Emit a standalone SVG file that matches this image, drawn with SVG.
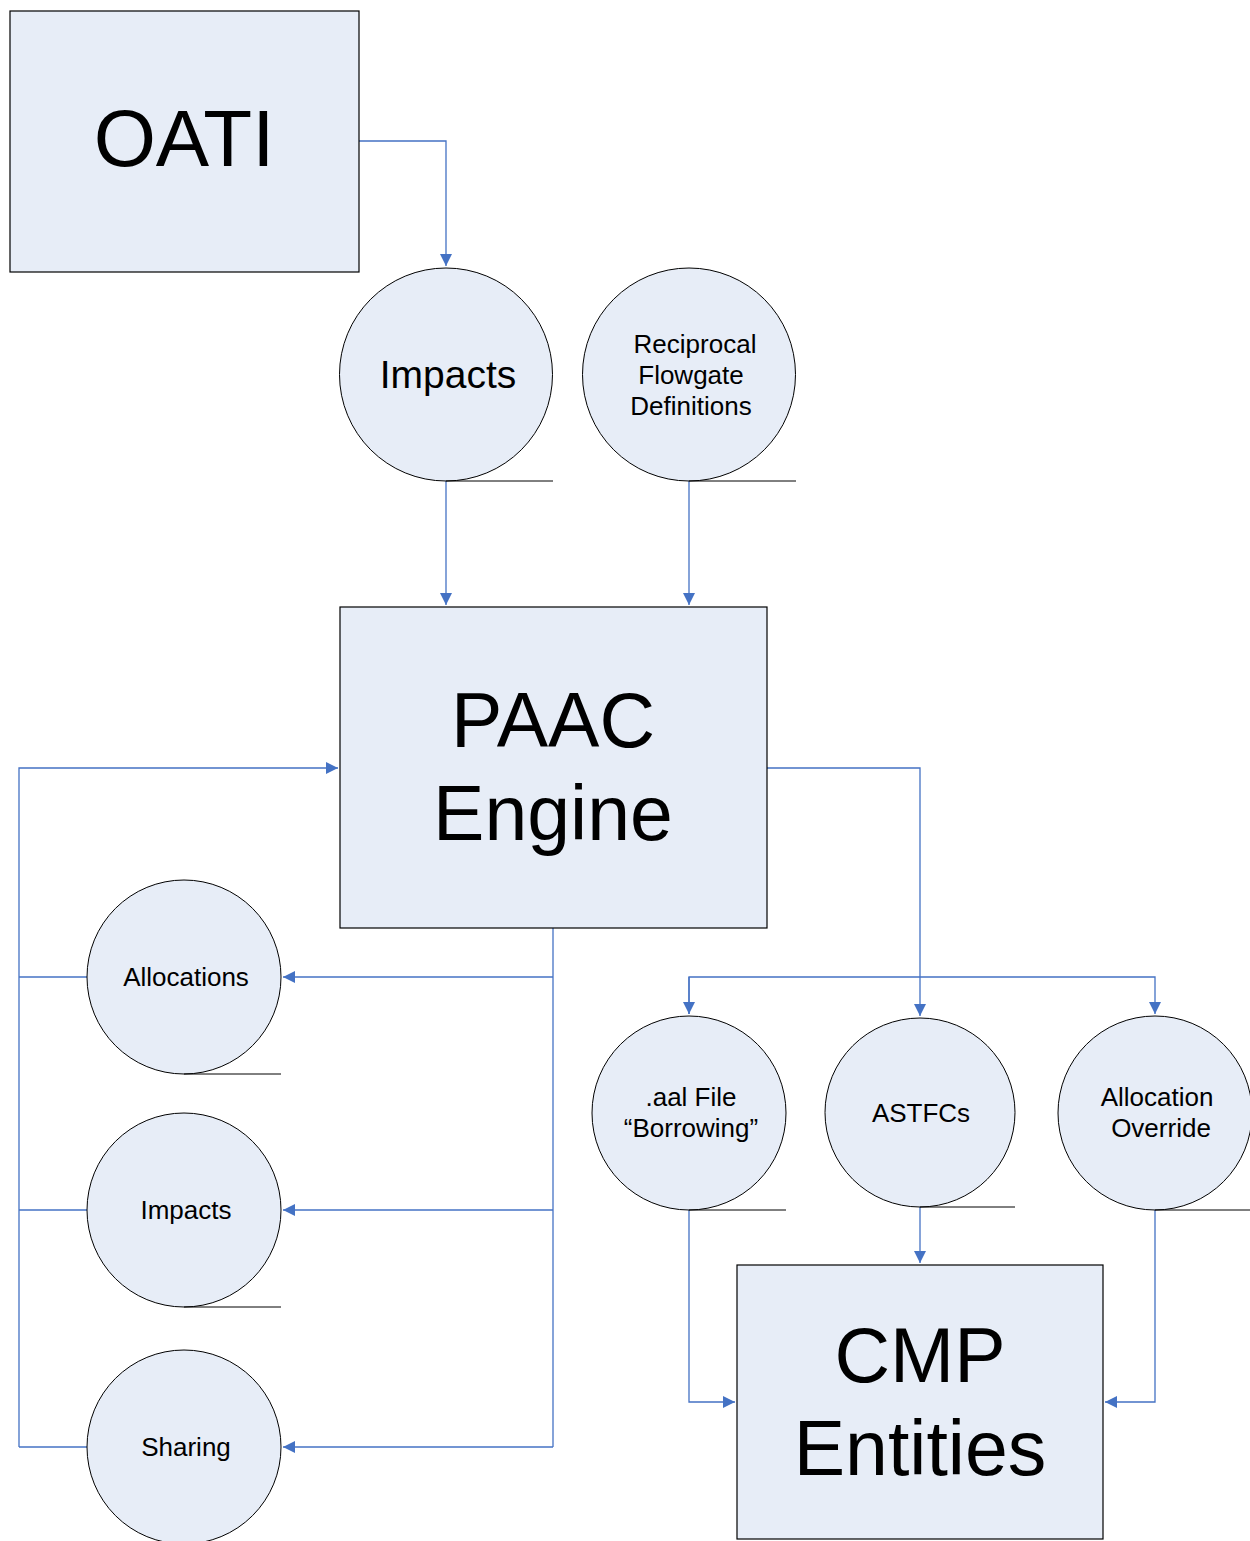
<svg xmlns="http://www.w3.org/2000/svg" width="1250" height="1541" viewBox="0 0 1250 1541">
<defs>
<marker id="arr" markerWidth="12" markerHeight="12" refX="10" refY="5" orient="auto" markerUnits="userSpaceOnUse" viewBox="0 0 10 10">
<path d="M0,0 L10,5 L0,10 z" fill="#4472C4"/>
</marker>
<style>
.box{fill:#E7EDF7;stroke:#000;stroke-width:1.2}
.tape{fill:#E7EDF7;stroke:#000;stroke-width:1}
.tail{stroke:#000;stroke-width:1;fill:none}
.c{fill:none;stroke:#4472C4;stroke-width:1.3}
.t{font-family:"Liberation Sans",Arial,sans-serif;fill:#000;text-anchor:middle}
</style>
</defs>
<rect width="1250" height="1541" fill="#fff"/>
<g id="connectors">
<path class="c" d="M359,141 H446 V266" marker-end="url(#arr)"/>
<path class="c" d="M446,481 V605" marker-end="url(#arr)"/>
<path class="c" d="M689,481 V605" marker-end="url(#arr)"/>
<path class="c" d="M19,1447 V768 H338" marker-end="url(#arr)"/>
<path class="c" d="M19,977 H87"/>
<path class="c" d="M19,1210 H87"/>
<path class="c" d="M19,1447 H87"/>
<path class="c" d="M553,928 V1447"/>
<path class="c" d="M553,977 H283" marker-end="url(#arr)"/>
<path class="c" d="M553,1210 H283" marker-end="url(#arr)"/>
<path class="c" d="M553,1447 H283" marker-end="url(#arr)"/>
<path class="c" d="M767,768 H920 V1016" marker-end="url(#arr)"/>
<path class="c" d="M689,1014 V977 H1155 V1014" marker-end="url(#arr)"/>
<path class="c" d="M689,977 V1014" marker-end="url(#arr)"/>
<path class="c" d="M689,1210 V1402 H735" marker-end="url(#arr)"/>
<path class="c" d="M920,1207 V1263" marker-end="url(#arr)"/>
<path class="c" d="M1155,1210 V1402 H1105" marker-end="url(#arr)"/>
</g>
<g id="oati">
<rect class="box" x="10" y="11" width="349" height="261"/>
<text class="t" x="184" y="166" font-size="80">OATI</text>
</g>
<g id="impacts-top">
<circle class="tape" cx="446" cy="374.5" r="106.5"/>
<path class="tail" d="M446,481 H553"/>
<text class="t" x="448" y="388" font-size="39">Impacts</text>
</g>
<g id="reciprocal">
<circle class="tape" cx="689" cy="374.5" r="106.5"/>
<path class="tail" d="M689,481 H796"/>
<text class="t" font-size="26"><tspan x="695" y="353">Reciprocal</tspan><tspan x="691" y="384">Flowgate</tspan><tspan x="691" y="415">Definitions</tspan></text>
</g>
<g id="paac">
<rect class="box" x="340" y="607" width="427" height="321"/>
<text class="t" font-size="77"><tspan x="553" y="747">PAAC</tspan><tspan x="553" y="840">Engine</tspan></text>
</g>
<g id="allocations">
<circle class="tape" cx="184" cy="977" r="97"/>
<path class="tail" d="M184,1074 H281"/>
<text class="t" x="186" y="986" font-size="26">Allocations</text>
</g>
<g id="impacts-left">
<circle class="tape" cx="184" cy="1210" r="97"/>
<path class="tail" d="M184,1307 H281"/>
<text class="t" x="186" y="1219" font-size="26">Impacts</text>
</g>
<g id="sharing">
<circle class="tape" cx="184" cy="1447" r="97"/>
<text class="t" x="186" y="1456" font-size="26">Sharing</text>
</g>
<g id="aal">
<circle class="tape" cx="689" cy="1113" r="97"/>
<path class="tail" d="M689,1210 H786"/>
<text class="t" font-size="26"><tspan x="691" y="1106">.aal File</tspan><tspan x="691" y="1137">“Borrowing”</tspan></text>
</g>
<g id="astfcs">
<ellipse class="tape" cx="920" cy="1112.5" rx="95" ry="94.5"/>
<path class="tail" d="M920,1207 H1015"/>
<text class="t" x="921" y="1122" font-size="26">ASTFCs</text>
</g>
<g id="override">
<circle class="tape" cx="1155" cy="1113" r="97"/>
<path class="tail" d="M1155,1210 H1250"/>
<text class="t" font-size="26"><tspan x="1157" y="1106">Allocation</tspan><tspan x="1161" y="1137">Override</tspan></text>
</g>
<g id="cmp">
<rect class="box" x="737" y="1265" width="366" height="274"/>
<text class="t" font-size="77"><tspan x="920" y="1382">CMP</tspan><tspan x="920" y="1475">Entities</tspan></text>
</g>
</svg>
